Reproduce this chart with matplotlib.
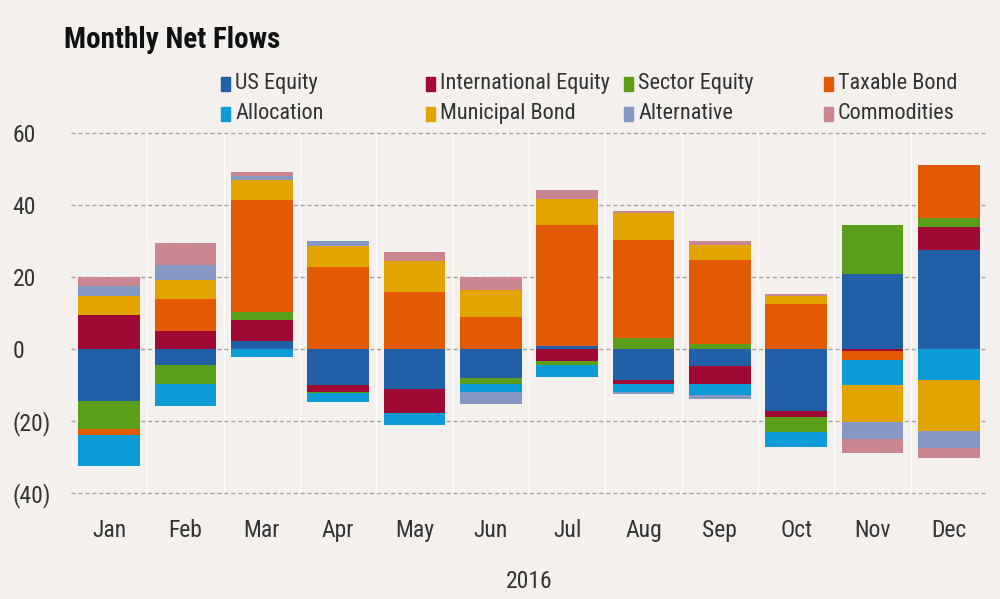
import numpy as np
import matplotlib
matplotlib.use("Agg")
import matplotlib.pyplot as plt
from matplotlib import font_manager as fm
from matplotlib.patches import Rectangle

names = {f.name for f in fm.fontManager.ttflist}
narrow = None
for cand in ["Liberation Sans Narrow", "DejaVu Sans Condensed", "Roboto Condensed", "Open Sans Condensed"]:
    if cand in names:
        narrow = cand
        break
FAM = [narrow, "DejaVu Sans"] if narrow else ["DejaVu Sans"]
plt.rcParams['font.family'] = FAM

months = ["Jan", "Feb", "Mar", "Apr", "May", "Jun", "Jul", "Aug", "Sep", "Oct", "Nov", "Dec"]
series = ["US Equity", "International Equity", "Sector Equity", "Taxable Bond",
          "Allocation", "Municipal Bond", "Alternative", "Commodities"]

us_equity     = [-14.4, -4.5,  2.3, -10.0, -11.0, -8.2,  0.8, -8.5, -4.7, -17.2, 20.8, 27.6]
intl_equity   = [  9.5,  5.1,  5.7,  -1.9,  -6.8,  0.0, -3.3, -1.1, -4.9,  -1.7, -0.7,  6.2]
sector_equity = [ -7.7, -5.1,  2.2,  -0.3,   0.0, -1.4, -1.2,  3.0,  1.3,  -4.2, 13.6,  2.6]
taxable_bond  = [ -1.9,  8.7, 31.2,  22.8,  15.8,  9.0, 33.5, 27.4, 23.3,  12.6, -2.3, 14.6]
allocation    = [ -8.4, -6.2, -2.1,  -2.5,  -3.4, -2.3, -3.4, -2.3, -3.3,  -4.0, -7.0, -8.5]
municipal     = [  5.1,  5.4,  5.4,   5.8,   8.6,  7.4,  7.3,  7.4,  4.4,   2.0,-10.4,-14.3]
alternative   = [  2.8,  4.2,  1.2,   1.4,   0.0, -3.4,  0.0, -0.5, -0.9,   0.0, -4.5, -4.7]
commodities   = [  2.6,  6.0,  1.1,   0.0,   2.6,  3.7,  2.5,  0.5,  0.9,   0.7, -4.0, -2.9]

values = [us_equity, intl_equity, sector_equity, taxable_bond,
          allocation, municipal, alternative, commodities]
colors = ["#2160A8", "#9E0A33", "#5A9E1A", "#E25A04",
          "#0D9BD8", "#E4A400", "#8597C3", "#C98590"]

yticks = [60, 40, 20, 0, -20, -40]
ytick_labels = ["60", "40", "20", "0", "(20)", "(40)"]
xlabel = "2016"
title = "Monthly Net Flows"

BG = "#F3F0ED"
fig = plt.figure(figsize=(10, 5.99), dpi=100, facecolor=BG)
ax = fig.add_axes([0.071, 0.177, 0.916, 0.601], facecolor=BG)

x = np.arange(len(months))
pos_base = np.zeros(len(months))
neg_base = np.zeros(len(months))
for vals, col in zip(values, colors):
    v = np.array(vals, dtype=float)
    p = np.where(v > 0, v, 0)
    n = np.where(v < 0, v, 0)
    ax.bar(x, p, bottom=pos_base, width=0.81, color=col, linewidth=0, zorder=3)
    ax.bar(x, n, bottom=neg_base, width=0.81, color=col, linewidth=0, zorder=3)
    pos_base += p
    neg_base += n

ax.set_xlim(-0.5, len(months) - 0.5)
ax.set_ylim(-40, 60)
for yv in yticks:
    ax.axhline(yv, color="#A9A3A3", lw=1.0, ls=(0, (3, 2)), zorder=1, clip_on=False)
for b in np.arange(0.5, len(months) - 0.5, 1):
    ax.axvline(b, color="white", lw=1.0, zorder=0)

ax.set_yticks(yticks)
ax.set_yticklabels(ytick_labels)
ax.set_xticks(x)
ax.set_xticklabels(months)
ax.tick_params(axis="y", length=0, pad=42, labelsize=17, labelcolor="#333333")
ax.tick_params(axis="x", length=0, pad=19, labelsize=17, labelcolor="#333333")
for lab in ax.get_yticklabels():
    lab.set_horizontalalignment("left")
for s in ax.spines.values():
    s.set_visible(False)
ax.set_xlabel(xlabel, fontsize=17, color="#333333", labelpad=20)

fig.text(0.064, 0.933, title, fontsize=21, fontweight="bold", color="#111111",
         ha="left", va="center")

# legend, 4 columns x 2 rows, row-major order
col_x = [0.221, 0.426, 0.624, 0.824]
row_y = [0.860, 0.810]
for i, (name, col) in enumerate(zip(series, colors)):
    r, c = divmod(i, 4)
    fig.patches.append(Rectangle((col_x[c], row_y[r] - 0.012), 0.009, 0.024,
                                 transform=fig.transFigure, color=col, figure=fig))
    fig.text(col_x[c] + 0.014, row_y[r], name, fontsize=16, color="#333333",
             ha="left", va="center")

fig.savefig("out.png", dpi=100, facecolor=BG)
